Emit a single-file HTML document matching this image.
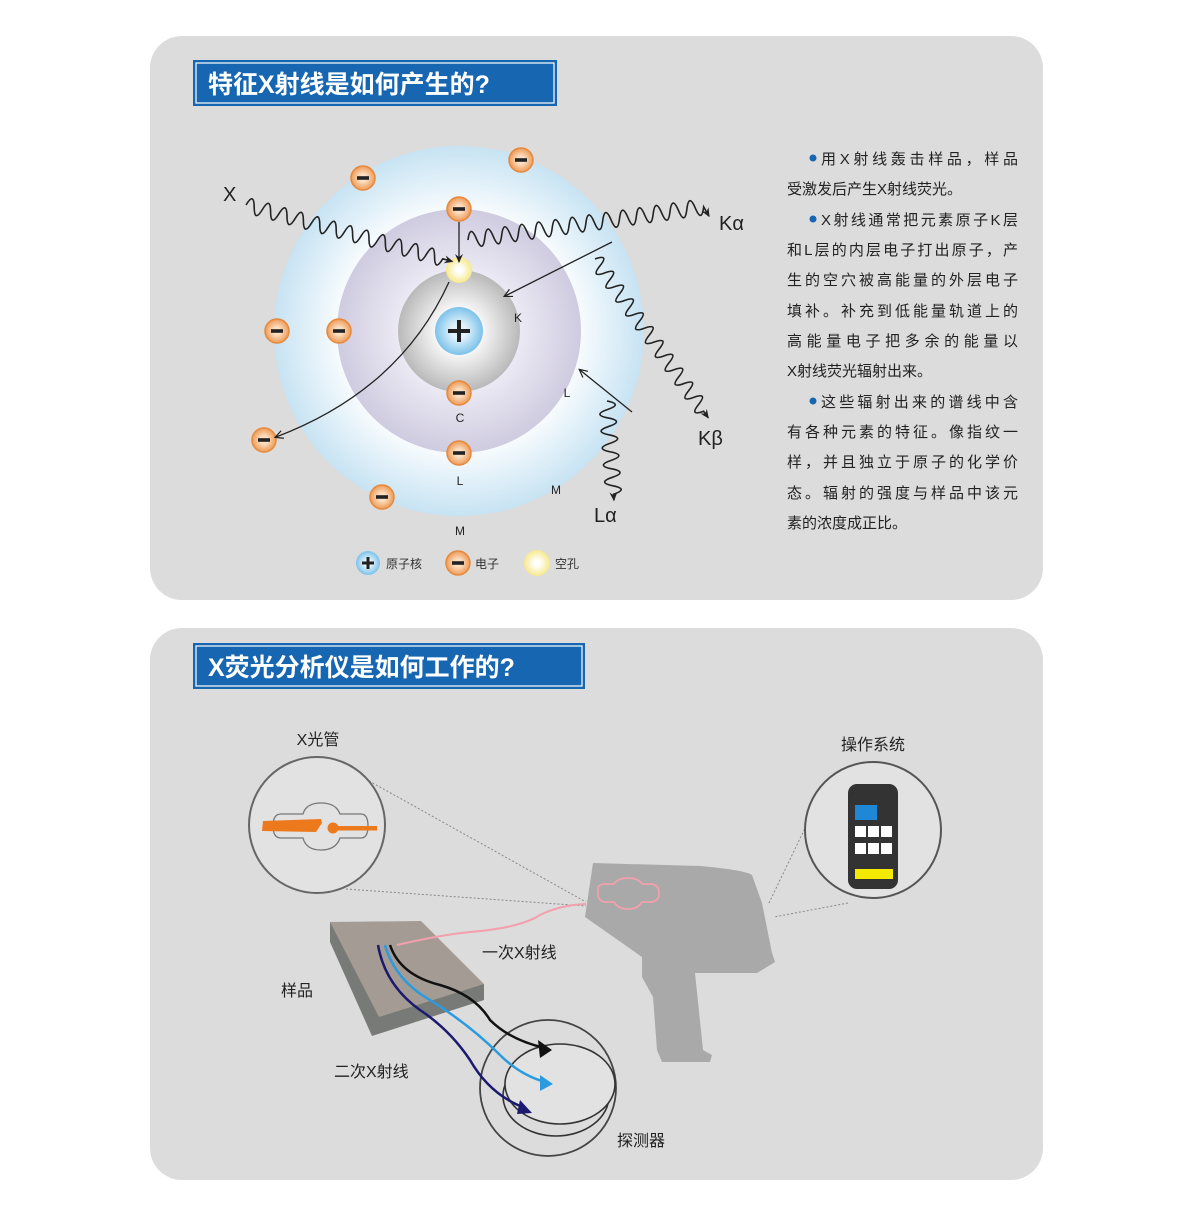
<!DOCTYPE html>
<html><head><meta charset="utf-8"><style>
html,body{margin:0;padding:0;background:#fff;}
svg{display:block;}
text{font-family:"Liberation Sans","Noto Sans CJK SC",sans-serif;}
</style></head><body>
<svg width="1200" height="1211" viewBox="0 0 1200 1211" xmlns="http://www.w3.org/2000/svg">
<defs>
<radialGradient id="gOuter" cx="50%" cy="50%" r="50%">
<stop offset="0.6" stop-color="#ffffff"/><stop offset="1" stop-color="#c7e3f3"/></radialGradient>
<radialGradient id="gMid" cx="50%" cy="50%" r="50%">
<stop offset="0.5" stop-color="#ebe9f3"/><stop offset="1" stop-color="#cfcbe0"/></radialGradient>
<radialGradient id="gIn" cx="50%" cy="50%" r="50%">
<stop offset="0.3" stop-color="#ffffff"/><stop offset="1" stop-color="#b9b9b9"/></radialGradient>
<radialGradient id="gNuc" cx="50%" cy="50%" r="50%">
<stop offset="0.3" stop-color="#e3f3fb"/><stop offset="1" stop-color="#7cc2ea"/></radialGradient>
<radialGradient id="gEl" cx="50%" cy="50%" r="50%">
<stop offset="0.3" stop-color="#fbe0c4"/><stop offset="1" stop-color="#ee9a55"/></radialGradient>
<radialGradient id="gHole" cx="50%" cy="50%" r="50%">
<stop offset="0.2" stop-color="#ffffff"/><stop offset="1" stop-color="#f7e98d"/></radialGradient>
<marker id="ah" markerWidth="10" markerHeight="10" refX="8" refY="5" orient="auto" markerUnits="userSpaceOnUse">
<path d="M0,1 L9,5 L0,9 L3,5 Z" fill="#222"/></marker>
<marker id="ao" markerWidth="10" markerHeight="10" refX="8" refY="5" orient="auto" markerUnits="userSpaceOnUse">
<path d="M1,1 L9,5 L1,9" fill="none" stroke="#222" stroke-width="1.2"/></marker>
<g id="el"><circle r="12" fill="url(#gEl)" stroke="#e58a3e" stroke-width="1.5"/><rect x="-6" y="-1.8" width="12" height="3.6" fill="#222"/></g>
</defs>

<rect x="150" y="36" width="893" height="564" rx="32" fill="#dcdcdc"/>
<rect x="150" y="628" width="893" height="552" rx="32" fill="#dcdcdc"/>

<rect x="193" y="60" width="364" height="46" fill="#1766b1"/>
<rect x="196" y="63" width="358" height="40" fill="none" stroke="#fff" stroke-width="1.2"/>
<text x="208" y="93" font-size="25" font-weight="bold" fill="#fff">特征X射线是如何产生的?</text>
<rect x="193" y="643" width="392" height="46" fill="#1766b1"/>
<rect x="196" y="646" width="386" height="40" fill="none" stroke="#fff" stroke-width="1.2"/>
<text x="208" y="676" font-size="25" font-weight="bold" fill="#fff">X荧光分析仪是如何工作的?</text>

<circle cx="459" cy="331" r="185" fill="url(#gOuter)"/>
<circle cx="459" cy="331" r="122" fill="url(#gMid)"/>
<circle cx="459" cy="331" r="61" fill="url(#gIn)"/>
<circle cx="459" cy="331" r="24" fill="url(#gNuc)"/>
<rect x="448" y="329" width="22" height="4" fill="#222"/><rect x="457" y="320" width="4" height="22" fill="#222"/>

<circle cx="459" cy="270" r="13" fill="url(#gHole)"/>

<use href="#el" x="363" y="178"/><use href="#el" x="521" y="160"/><use href="#el" x="459" y="209"/>
<use href="#el" x="277" y="331"/><use href="#el" x="339" y="331"/><use href="#el" x="459" y="393"/>
<use href="#el" x="459" y="453"/><use href="#el" x="264" y="440"/><use href="#el" x="382" y="497"/>

<g font-size="12" fill="#222" text-anchor="middle">
<text x="518" y="322">K</text><text x="460" y="422">C</text><text x="567" y="397">L</text>
<text x="460" y="485">L</text><text x="556" y="494">M</text><text x="460" y="535">M</text></g>
<g font-size="20" fill="#222">
<text x="223" y="201">X</text><text x="719" y="230">Kα</text><text x="698" y="445">Kβ</text><text x="594" y="522">Lα</text></g>

<g fill="none" stroke="#222" stroke-width="1.6">
<g transform="translate(246,205) rotate(15.3)"><path marker-end="url(#ah)" d="M0,0 q4.25,-15 8.5,0 t8.5,0 t8.5,0 t8.5,0 t8.5,0 t8.5,0 t8.5,0 t8.5,0 t8.5,0 t8.5,0 t8.5,0 t8.5,0 t8.5,0 t8.5,0 t8.5,0 t8.5,0 t8.5,0 t8.5,0 t8.5,0 t8.5,0 t8.5,0 t8.5,0 t8.5,0 t8.5,0 l10,0"/></g>
<g transform="translate(468,240) rotate(-8)"><path marker-end="url(#ah)" d="M0,0 q4.25,-16 8.5,0 t8.5,0 t8.5,0 t8.5,0 t8.5,0 t8.5,0 t8.5,0 t8.5,0 t8.5,0 t8.5,0 t8.5,0 t8.5,0 t8.5,0 t8.5,0 t8.5,0 t8.5,0 t8.5,0 t8.5,0 t8.5,0 t8.5,0 t8.5,0 t8.5,0 t8.5,0 t8.5,0 t8.5,0 t8.5,0 t8.5,0 t8.5,0 l4,10"/></g>
<g transform="translate(595,259) rotate(54.5)"><path marker-end="url(#ah)" d="M0,0 q4.25,-15 8.5,0 t8.5,0 t8.5,0 t8.5,0 t8.5,0 t8.5,0 t8.5,0 t8.5,0 t8.5,0 t8.5,0 t8.5,0 t8.5,0 t8.5,0 t8.5,0 t8.5,0 t8.5,0 t8.5,0 t8.5,0 t8.5,0 t8.5,0 t8.5,0 t8.5,0 l8,0"/></g>
<g transform="translate(607,401) rotate(86)"><path marker-end="url(#ah)" d="M0,0 q4.25,-16 8.5,0 t8.5,0 t8.5,0 t8.5,0 t8.5,0 t8.5,0 t8.5,0 t8.5,0 t8.5,0 t8.5,0 t8.5,0 l6,0"/></g>
</g>
<g fill="none" stroke="#222" stroke-width="1.3">
<path d="M459,222 L459,262" marker-end="url(#ah)"/>
<path d="M612,242 L505,296" marker-end="url(#ao)"/>
<path d="M632,412 L580,370" marker-end="url(#ao)"/>
<path d="M449,282 Q400,390 276,437" marker-end="url(#ao)"/>
</g>

<circle cx="368" cy="563" r="12" fill="url(#gNuc)"/>
<rect x="362" y="561.5" width="12" height="3" fill="#222"/><rect x="366.5" y="557" width="3" height="12" fill="#222"/>
<text x="386" y="568" font-size="12" fill="#333">原子核</text>
<use href="#el" x="458" y="563"/>
<text x="475" y="568" font-size="12" fill="#333">电子</text>
<circle cx="537" cy="563" r="13" fill="url(#gHole)"/>
<text x="555" y="568" font-size="12" fill="#333">空孔</text>

<g font-size="15" fill="#222">
<circle cx="813" cy="158" r="3.5" fill="#1766b1"/>
<text x="821" y="164" textLength="197" lengthAdjust="spacing">用X射线轰击样品，样品</text>
<text x="787" y="194">受激发后产生X射线荧光。</text>
<circle cx="813" cy="219" r="3.5" fill="#1766b1"/>
<text x="821" y="225" textLength="197" lengthAdjust="spacing">X射线通常把元素原子K层</text>
<text x="787" y="255" textLength="231" lengthAdjust="spacing">和L层的内层电子打出原子，产</text>
<text x="787" y="285" textLength="231" lengthAdjust="spacing">生的空穴被高能量的外层电子</text>
<text x="787" y="316" textLength="231" lengthAdjust="spacing">填补。补充到低能量轨道上的</text>
<text x="787" y="346" textLength="231" lengthAdjust="spacing">高能量电子把多余的能量以</text>
<text x="787" y="376">X射线荧光辐射出来。</text>
<circle cx="813" cy="401" r="3.5" fill="#1766b1"/>
<text x="821" y="407" textLength="197" lengthAdjust="spacing">这些辐射出来的谱线中含</text>
<text x="787" y="437" textLength="231" lengthAdjust="spacing">有各种元素的特征。像指纹一</text>
<text x="787" y="467" textLength="231" lengthAdjust="spacing">样，并且独立于原子的化学价</text>
<text x="787" y="498" textLength="231" lengthAdjust="spacing">态。辐射的强度与样品中该元</text>
<text x="787" y="528">素的浓度成正比。</text>
</g>

<g stroke="#888" stroke-width="1" stroke-dasharray="2,2" fill="none">
<path d="M362,777 L586,902"/><path d="M346,889 L586,906"/>
<path d="M808,822 L768,905"/><path d="M848,903 L774,917"/>
</g>
<path d="M593,863 L700,866 Q745,870 752,875 L762,903 L772,953 L775,962 L757,973 L695,973 L703,1050 L712,1055 L710,1062 L662,1062 L657,1050 L653,997 L642,977 L642,957 L585,917 Z" fill="#a9a9a9"/>
<path d="M598,889 Q598,884 606,884 L614,884 Q618,878 628,878 Q638,878 642,884 L650,884 Q659,884 659,893 Q659,902 650,902 L642,902 Q638,909 628,909 Q618,909 614,902 L606,902 Q598,902 598,893 Z" fill="none" stroke="#f2a0ad" stroke-width="1.8"/>

<circle cx="317" cy="825" r="68" fill="#e2e2e2" stroke="#666" stroke-width="2"/>
<path d="M281,814 L303,814 Q306,803 321,803 Q336,803 340,814 L361,814 Q368,814 368,826 Q368,838 361,838 L340,838 Q336,850 321,850 Q306,850 303,838 L281,838 Q273,838 273,826 Q273,814 281,814 Z" fill="none" stroke="#777" stroke-width="1.3"/>
<path d="M263,821 L321,819 L322,823 L316,832 L262,831 Z" fill="#ec7a1c"/>
<circle cx="333" cy="828" r="5.5" fill="#ec7a1c"/>
<rect x="333" y="826" width="44" height="4.5" fill="#ec7a1c"/>
<text x="318" y="745" font-size="16" fill="#222" text-anchor="middle">X光管</text>

<circle cx="873" cy="830" r="68" fill="#e2e2e2" stroke="#555" stroke-width="2"/>
<rect x="848" y="784" width="50" height="105" rx="9" fill="#333"/>
<rect x="855" y="805" width="22" height="15" fill="#1e88d6"/>
<g fill="#fff"><rect x="855" y="826" width="11" height="11"/><rect x="868" y="826" width="11" height="11"/><rect x="881" y="826" width="11" height="11"/>
<rect x="855" y="843" width="11" height="11"/><rect x="868" y="843" width="11" height="11"/><rect x="881" y="843" width="11" height="11"/></g>
<rect x="855" y="869" width="38" height="10" fill="#f4ea00"/>
<text x="873" y="750" font-size="16" fill="#222" text-anchor="middle">操作系统</text>

<circle cx="548" cy="1088" r="68" fill="none" stroke="#444" stroke-width="1.8"/>
<ellipse cx="556" cy="1096" rx="53" ry="40" fill="none" stroke="#333" stroke-width="1.6"/>
<ellipse cx="560" cy="1084" rx="55" ry="40" fill="#e2e2e2" stroke="#333" stroke-width="1.6"/>

<path d="M330,922 L330,942 L372,1036 L484,1000 L484,984 Z" fill="#777a76"/>
<path d="M330,922 L421,921 L484,984 L379,1017 Z" fill="#a49c94"/>

<path d="M397,945 Q440,935 470,932 Q520,928 540,915 Q560,905 586,904" fill="none" stroke="#f2a0ad" stroke-width="2"/>
<g fill="none" stroke-width="2.5">
<path d="M390,945 Q400,975 440,985 Q475,995 490,1020 Q510,1040 545,1048" stroke="#111"/>
<path d="M385,945 Q395,980 430,1000 Q470,1025 500,1055 Q520,1075 545,1082" stroke="#2b9be0"/>
<path d="M378,945 Q385,985 420,1010 Q450,1030 470,1060 Q490,1095 525,1108" stroke="#1c1a6e"/>
</g>
<path d="M538,1040 L552,1050 L540,1058 Z" fill="#111"/>
<path d="M540,1075 L553,1084 L540,1091 Z" fill="#2b9be0"/>
<path d="M520,1100 L532,1113 L517,1114 Z" fill="#1c1a6e"/>

<g font-size="16" fill="#222">
<text x="482" y="958">一次X射线</text>
<text x="281" y="996">样品</text>
<text x="334" y="1077">二次X射线</text>
<text x="617" y="1146">探测器</text>
</g>
</svg>
</body></html>
